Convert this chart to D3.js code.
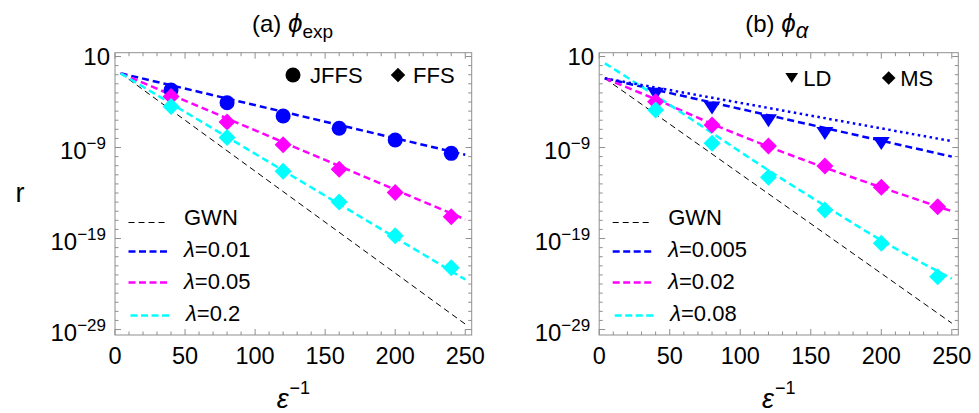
<!DOCTYPE html>
<html>
<head>
<meta charset="utf-8">
<script src="https://cdn.jsdelivr.net/npm/d3@7"></script>
<style>
body { margin: 0; background: #fff; }
svg { display: block; font-family: "Liberation Sans", Arial, sans-serif; }
</style>
</head>
<body>
<div id="container"></div>
<script>
var width = 979;
var height = 413;

// x values of the simulated points (epsilon^-1)
var epsInv = [40, 80, 120, 160, 200, 240];
var epsInvLD = [40, 80, 120, 160, 200];

// panel (a): markers, log10 r
var aJFFS = [-2.68, -4.08, -5.54, -6.89, -8.18, -9.64];
var aFFSmag = [-3.4, -6.2, -8.7, -11.4, -13.95, -16.6];
var aFFScyan = [-4.5, -7.9, -11.6, -15.0, -18.7, -22.2];

// panel (a): curves as [epsilon^-1, log10 r]
var aGWN = [[4, -0.85], [250, -28.4]];
var aLam001 = [[4, -0.85], [250, -9.8]];
var aLam005 = [[4, -0.85], [250, -16.9]];
var aLam02 = [[4, -0.85], [250, -23.5]];

// panel (b): markers, log10 r
var bLD = [-3.1, -4.6, -6.0, -7.4, -8.5];
var bMSmag = [-3.97, -6.53, -8.84, -11.03, -13.37, -15.51];
var bMScyan = [-4.88, -8.54, -12.27, -15.87, -19.53, -23.2];

// panel (b): curves
var bGWN = [[4, -1.4], [250, -28.3]];
var bLam0005 = [[4, -1.4], [250, -10.0]];
var bLam0005dot = [[4, -1.4], [250, -8.3]];
var bLam002 = [[4, -1.4], [40, -3.7], [80, -6.4], [250, -16.0]];
var bLam008 = [[4, 0.25], [40, -3.3], [80, -7.4], [120, -11.5], [160, -15.4], [200, -19.2], [250, -23.4]];

var xTicks = [0, 50, 100, 150, 200, 250];
var yMajor = [1, -9, -19, -29];
var legA = ["GWN", "\u03bb=0.01", "\u03bb=0.05", "\u03bb=0.2"];
var legB = ["GWN", "\u03bb=0.005", "\u03bb=0.02", "\u03bb=0.08"];

var BLUE = "#0000ff", MAG = "#ff00ff", CYAN = "#00ffff";
var frameColor = "#8f8f8f";

var svg = d3.select("#container").append("svg")
    .attr("width", width)
    .attr("height", height);

var top0 = 52.7, bot0 = 335;
var y = d3.scaleLog()
    .domain([Math.pow(10, -29.6), Math.pow(10, 1.418)])
    .range([bot0, top0]);

function P(e) { return Math.pow(10, e); }

// s = size factor (1 in the plot, smaller in the key)
function marker(g, shape, cx, cy, color, s) {
    s = s || 1;
    if (shape == "circle") {
	g.append("circle").attr("cx", cx).attr("cy", cy).attr("r", 7.5 * s).attr("fill", color);
    } else if (shape == "diamond") {
	var d = 8.5 * s;
	g.append("path").attr("fill", color)
	    .attr("d", "M" + cx + "," + (cy - d) + "L" + (cx + d) + "," + cy + "L" + cx + "," + (cy + d) + "L" + (cx - d) + "," + cy + "Z");
    } else {
	g.append("path").attr("fill", color)
	    .attr("d", "M" + (cx - 8.5 * s) + "," + (cy - 6 * s) + "L" + (cx + 8.5 * s) + "," + (cy - 6 * s) + "L" + cx + "," + (cy + 7 * s) + "Z");
    }
}

function drawPanel(p) {
    var x = d3.scaleLinear().domain([0, 254.6]).range([p.x0, p.x1]);
    var g = svg.append("g");
    var clipId = "clip" + p.id;
    svg.append("clipPath").attr("id", clipId).append("rect")
	.attr("x", p.x0).attr("y", top0).attr("width", p.x1 - p.x0).attr("height", bot0 - top0);

    // frame
    g.append("rect").attr("x", p.x0).attr("y", top0)
	.attr("width", p.x1 - p.x0).attr("height", bot0 - top0)
	.attr("fill", "none").attr("stroke", frameColor).attr("stroke-width", 1);

    // x ticks (inward, both sides)
    d3.range(0, 255, 10).forEach(function(v) {
	var len = (v % 50 == 0) ? 6 : 3.5;
	var xx = x(v);
	g.append("line").attr("x1", xx).attr("x2", xx).attr("y1", bot0).attr("y2", bot0 - len).attr("stroke", frameColor);
	g.append("line").attr("x1", xx).attr("x2", xx).attr("y1", top0).attr("y2", top0 + len).attr("stroke", frameColor);
    });
    xTicks.forEach(function(v) {
	g.append("text").attr("x", x(v)).attr("y", 364).attr("text-anchor", "middle")
	    .attr("font-size", 23.5).text(v);
    });
    // y ticks
    d3.range(-29, 2).forEach(function(e) {
	var major = yMajor.indexOf(e) >= 0;
	var len = major ? 6 : 3.5;
	var yy = y(P(e));
	g.append("line").attr("x1", p.x0).attr("x2", p.x0 + len).attr("y1", yy).attr("y2", yy).attr("stroke", frameColor);
	g.append("line").attr("x1", p.x1).attr("x2", p.x1 - len).attr("y1", yy).attr("y2", yy).attr("stroke", frameColor);
    });
    yMajor.forEach(function(e) {
	var yy = y(P(e));
	var t = g.append("text").attr("text-anchor", "end").attr("font-size", 24);
	if (e == 1) {
	    t.attr("x", p.x0 - 5).attr("y", yy + 8.5).text("10");
	} else {
	    t.attr("x", p.x0 - 9).attr("y", yy + 11);
	    t.append("tspan").text("10");
	    t.append("tspan").attr("font-size", 17).attr("dy", -10).text("\u2212" + (-e));
	}
    });

    // curves
    var line = d3.line()
	.x(function(d) { return x(d[0]); })
	.y(function(d) { return y(P(d[1])); })
	.curve(d3.curveMonotoneX);
    var cg = g.append("g").attr("clip-path", "url(#" + clipId + ")");
    p.curves.forEach(function(c) {
	cg.append("path").attr("d", line(c.data)).attr("fill", "none")
	    .attr("stroke", c.color).attr("stroke-width", c.w)
	    .attr("stroke-dasharray", c.dash);
    });

    // markers
    p.marks.forEach(function(m) {
	m.vals.forEach(function(v, i) {
	    marker(g, m.shape, x(m.xs[i]), y(P(v)), m.color);
	});
    });

    // legend of curves
    var rowText = [217, 249, 280.5, 313];
    var rowLine = [222.5, 251.5, 282.5, 315.5];
    p.legend.forEach(function(s, i) {
	var c = p.curves[i];
	var lx = p.x0 + (i == 3 ? 15.5 : 13.5);
	g.append("line").attr("x1", lx).attr("x2", lx + 40)
	    .attr("y1", rowLine[i]).attr("y2", rowLine[i])
	    .attr("stroke", c.color).attr("stroke-width", c.w)
	    .attr("stroke-dasharray", i == 0 ? "6,4" : "7,3.5");
	var t = g.append("text").attr("x", p.x0 + (i == 3 ? 71 : 69)).attr("y", rowText[i] + 8)
	    .attr("font-size", 22);
	if (i == 0) t.text(s);
	else {
	    t.append("tspan").attr("font-style", "italic").text(s.charAt(0));
	    t.append("tspan").text(s.slice(1));
	}
    });

    // legend of markers
    p.keys.forEach(function(k) {
	marker(g, k.shape, p.x0 + k.dx, k.cy, "#000", k.s);
	g.append("text").attr("x", p.x0 + k.tx).attr("y", k.cy + 8)
	    .attr("font-size", 22).text(k.label);
    });

    // title
    var tt = svg.append("text").attr("x", p.tcx).attr("y", 32)
	.attr("text-anchor", "middle").attr("font-size", 24);
    tt.append("tspan").text(p.tlabel + " ");
    tt.append("tspan").attr("font-style", "italic").attr("font-size", 26).text("\u03d5");
    tt.append("tspan").attr("font-size", p.tsubSize).attr("dy", 6)
	.attr("font-style", p.tsubItalic ? "italic" : "normal").text(p.tsub);

    // x label
    var xl = svg.append("text").attr("x", (p.x0 + p.x1) / 2).attr("y", 408)
	.attr("text-anchor", "middle").attr("font-size", 27);
    xl.append("tspan").attr("font-style", "italic").text("\u03b5");
    xl.append("tspan").attr("font-size", 18).attr("dx", 1).attr("dy", -14).text("\u22121");
}

drawPanel({
    id: "a", x0: 115, x1: 471.7, tcx: 292.5, tlabel: "(a)", tsub: "exp", tsubItalic: false, tsubSize: 19,
    curves: [
	{data: aGWN, color: "#000", w: 1, dash: "6,4"},
	{data: aLam001, color: BLUE, w: 2.5, dash: "7,4"},
	{data: aLam005, color: MAG, w: 2.5, dash: "7,4"},
	{data: aLam02, color: CYAN, w: 2.5, dash: "7,4"}
    ],
    marks: [
	{xs: epsInv, vals: aJFFS, shape: "circle", color: BLUE},
	{xs: epsInv, vals: aFFSmag, shape: "diamond", color: MAG},
	{xs: epsInv, vals: aFFScyan, shape: "diamond", color: CYAN}
    ],
    legend: legA,
    keys: [
	{shape: "circle", dx: 178, cy: 75, tx: 195, label: "JFFS", s: 1},
	{shape: "diamond", dx: 283, cy: 75, tx: 298, label: "FFS", s: 0.85}
    ]
});

drawPanel({
    id: "b", x0: 599.2, x1: 958.3, tcx: 776.7, tlabel: "(b)", tsub: "\u03b1", tsubItalic: true, tsubSize: 22,
    curves: [
	{data: bGWN, color: "#000", w: 1, dash: "6,4"},
	{data: bLam0005, color: BLUE, w: 2.5, dash: "7,4"},
	{data: bLam002, color: MAG, w: 2.5, dash: "7,4"},
	{data: bLam008, color: CYAN, w: 2.5, dash: "7,4"},
	{data: bLam0005dot, color: BLUE, w: 2.5, dash: "2.5,3.5"}
    ],
    marks: [
	{xs: epsInvLD, vals: bLD, shape: "triangle", color: BLUE},
	{xs: epsInv, vals: bMSmag, shape: "diamond", color: MAG},
	{xs: epsInv, vals: bMScyan, shape: "diamond", color: CYAN}
    ],
    legend: legB,
    keys: [
	{shape: "triangle", dx: 192.5, cy: 77.5, tx: 204, label: "LD", s: 0.75},
	{shape: "diamond", dx: 289.5, cy: 78, tx: 301, label: "MS", s: 0.8}
    ]
});

// y axis label
svg.append("text").attr("x", 20).attr("y", 202).attr("text-anchor", "middle")
    .attr("font-size", 27).text("r");
</script>
</body>
</html>
